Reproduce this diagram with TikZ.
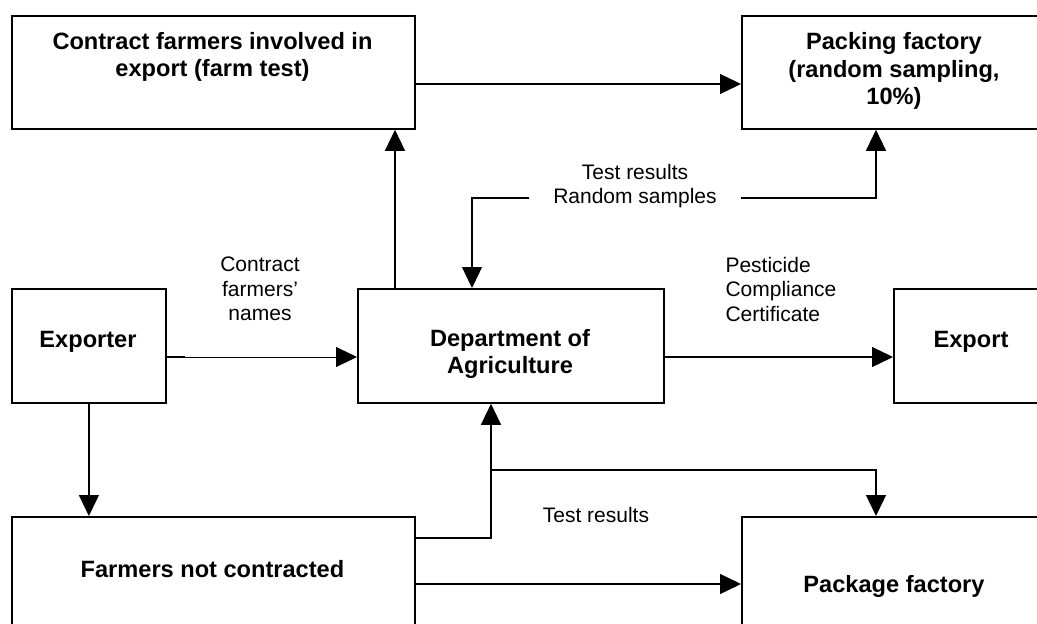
\documentclass[tikz,border=0pt]{standalone}
\usepackage{fontspec}
\setmainfont{Liberation Sans}
\usetikzlibrary{arrows.meta}

\tikzset{
	box/.style={draw, line width=1.8pt, anchor=north west, inner sep=0pt},
	boxtext/.style={font=\fontsize{23.6}{27.5}\selectfont\bfseries, align=center},
	flowtext/.style={font=\fontsize{21}{24.5}\selectfont, align=center},
	link/.style={line width=1.3pt, -{Triangle[length=21pt,width=20pt]}},
	twolink/.style={line width=1.3pt, {Triangle[length=21pt,width=20pt]}-{Triangle[length=21pt,width=20pt]}},
}

\begin{document}
\begin{tikzpicture}[x=1pt, y=-1pt]
		%%%%% START %%%%%
		
		\useasboundingbox (0,0) rectangle (1037,624);
		\clip (0,0) rectangle (1037,624);
		
		% boxes
		\node[box, minimum width=403pt, minimum height=113pt] (contract) at (11,15) {};
		\node[box, minimum width=306pt, minimum height=113pt] (packing) at (741,15) {};
		\node[box, minimum width=154pt, minimum height=114pt] (exporter) at (11,288) {};
		\node[box, minimum width=306pt, minimum height=114pt] (dept) at (357,288) {};
		\node[box, minimum width=156pt, minimum height=114pt] (export) at (893,288) {};
		\node[box, minimum width=403pt, minimum height=114pt] (farmers) at (11,516) {};
		\node[box, minimum width=306pt, minimum height=114pt] (package) at (741,516) {};
		
		\node[boxtext] (contract-t) at (212.5,57) {Contract farmers involved in\\export (farm test)};
		\node[boxtext] (packing-t) at (894,71) {Packing factory\\(random sampling,\\10\%)};
		\node[boxtext] (exporter-t) at (88,342) {Exporter};
		\node[boxtext] (dept-t) at (510,354) {Department of\\Agriculture};
		\node[boxtext] (export-t) at (971,342) {Export};
		\node[boxtext] (farmers-t) at (212.5,569) {Farmers not contracted};
		\node[boxtext] (package-t) at (894,586) {Package factory};
		
		% top row
		\draw[link] (contract.east |- 0,84) -- (packing.west |- 0,84);
		\draw[link] (dept.north -| 395,0) -- (contract.south -| 395,0);
		
		\coordinate (samples-c) at (635,198);
		\draw[twolink] ([xshift=115pt]dept.north west) |- (samples-c) -| ([xshift=135pt]packing.south west);
		\node[flowtext, fill=white, inner xsep=24pt, inner ysep=2pt] (samples-t) at (635,186) {Test results\\Random samples};
		
		% middle row
		\draw[line width=1.3pt] (exporter.east |- 0,357) -- ++(18,0);
		\draw[link, line width=0.9pt] (exporter.east |- 0,357) -- (dept.west |- 0,357);
		\node[flowtext] (names-t) at (260,289) {Contract\\farmers’\\names};
		\draw[link] (dept.east |- 0,357) -- (export.west |- 0,357);
		\node[flowtext, align=left, anchor=west] (cert-t) at (722,289) {Pesticide\\Compliance\\Certificate};
		
		% bottom row
		\draw[link] (exporter.south) -- (farmers.north -| exporter.south);
		\draw[link] ([yshift=-22pt]farmers.north east) -| ([xshift=134pt]dept.south west);
		\coordinate (split) at (491,470);
		\draw[link] (split) -| ([xshift=135pt]package.north west);
		\node[flowtext] (results-t) at (596,515) {Test results};
		\draw[link] (farmers.east |- 0,584) -- (package.west |- 0,584);
		
		%%%%% END %%%%%
\end{tikzpicture}
\end{document}
